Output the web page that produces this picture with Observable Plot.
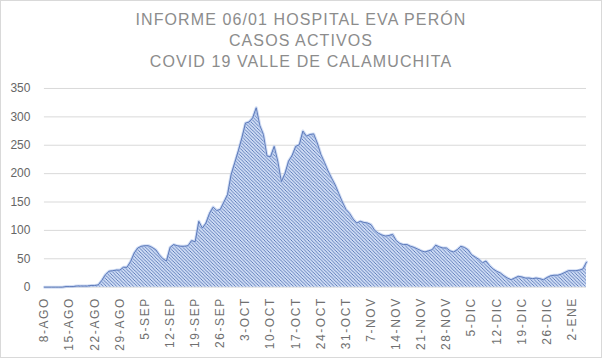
<!DOCTYPE html>
<html>
<head>
<meta charset="utf-8">
<script src="https://cdn.jsdelivr.net/npm/d3@7"></script>
<script src="https://cdn.jsdelivr.net/npm/@observablehq/plot@0.6"></script>
<style>
  html, body { margin: 0; padding: 0; background: #fff; }
  #wrap { position: relative; width: 602px; height: 358px; box-sizing: border-box; border: 1px solid #d9d9d9; overflow: hidden; background: #fff; }
  #title { position: absolute; left: 0; top: 8px; width: 600px; text-align: center; font-family: "Liberation Sans", Arial, sans-serif; font-size: 16px; line-height: 21px; letter-spacing: 1.1px; color: #8c8c8c; }
  #chart { position: absolute; left: -1px; top: 77px; }
  #chart svg { font-family: "Liberation Sans", Arial, sans-serif; }
  #chart [aria-label="x-axis tick label"] text { letter-spacing: 1.6px; }
</style>
</head>
<body>
<div id="wrap">
  <div id="title">INFORME 06/01 HOSPITAL EVA PERÓN<br>CASOS ACTIVOS<br>COVID 19 VALLE DE CALAMUCHITA</div>
  <div id="chart"></div>
</div>
<script>
// Daily active cases, from 8-AGO-2020 to 6-ENE-2021
const startDate = "2020-08-08";
const activeCases = [
  0,0,0,0,0,0,1,1,
  1,2,2,2,2,3,3,4,
  12,22,28,29,30,30,35,35,
  45,60,69,72,73,73,70,66,
  57,50,46,70,75,73,72,72,
  73,82,80,116,104,113,130,141,
  135,137,150,163,198,219,240,263,
  289,291,298,316,285,269,231,230,
  248,222,186,200,222,232,248,251,
  275,266,269,270,254,234,220,205,
  192,180,165,150,137,130,120,113,
  116,114,113,110,100,95,92,90,
  91,93,82,77,75,75,72,70,
  67,64,62,64,66,74,71,69,
  69,64,62,66,72,70,66,57,
  53,49,43,46,38,32,28,25,
  20,16,13,16,19,18,16,16,
  15,16,15,13,17,20,21,21,
  23,26,29,29,29,30,32,44
];
const tickLabels = ["8-AGO","15-AGO","22-AGO","29-AGO","5-SEP","12-SEP","19-SEP","26-SEP","3-OCT","10-OCT","17-OCT","24-OCT","31-OCT","7-NOV","14-NOV","21-NOV","28-NOV","5-DIC","12-DIC","19-DIC","26-DIC","2-ENE"];
const yTicks = [0,50,100,150,200,250,300,350];

const start = new Date(startDate + "T00:00:00Z");
const dates = activeCases.map((_, i) => d3.utcDay.offset(start, i));
const data = activeCases.map((v, i) => ({date: dates[i], value: v}));
const tickDates = tickLabels.map((_, i) => dates[i * 7]);
const labelByTime = new Map(tickDates.map((d, i) => [+d, tickLabels[i]]));

const chart = Plot.plot({
  width: 602,
  height: 281,
  marginLeft: 44,
  marginRight: 15,
  marginTop: 10,
  marginBottom: 72,
  style: {fontSize: "12px", color: "#666666", background: "transparent"},
  x: {type: "utc", label: null, domain: [dates[0], dates[dates.length - 1]], ticks: tickDates, tickFormat: d => labelByTime.get(+d) ?? ""},
  y: {label: null, domain: [0, 350], ticks: yTicks},
  marks: [
    Plot.gridY(yTicks, {stroke: "#d9d9d9", strokeOpacity: 1, strokeWidth: 1}),
    Plot.areaY(data, {x: "date", y: "value", fill: "url(#hatch)"}),
    Plot.lineY(data, {x: "date", y: "value", stroke: "#b3c7ec", strokeWidth: 3, strokeOpacity: 0.6}),
    Plot.lineY(data, {x: "date", y: "value", stroke: "#5573b4", strokeWidth: 0.9}),
    Plot.axisY({ticks: yTicks, label: null, tickSize: 0, tickPadding: 14, fontSize: 12}),
    Plot.axisX({ticks: tickDates, label: null, tickSize: 0, tickPadding: 10, tickRotate: -90, fontSize: 12, fill: "#707070", tickFormat: d => labelByTime.get(+d) ?? ""})
  ]
});

d3.select(chart).insert("defs", ":first-child").html(`
  <pattern id="hatch" patternUnits="userSpaceOnUse" width="3.4" height="3.4">
    <rect width="3.4" height="3.4" fill="#cddbf4"></rect>
    <path d="M-1,-1 L4.4,4.4 M-1,2.4 L1,4.4 M2.4,-1 L4.4,1" stroke="#5170b2" stroke-width="0.85"></path>
  </pattern>`);

document.getElementById("chart").appendChild(chart);
</script>
</body>
</html>
